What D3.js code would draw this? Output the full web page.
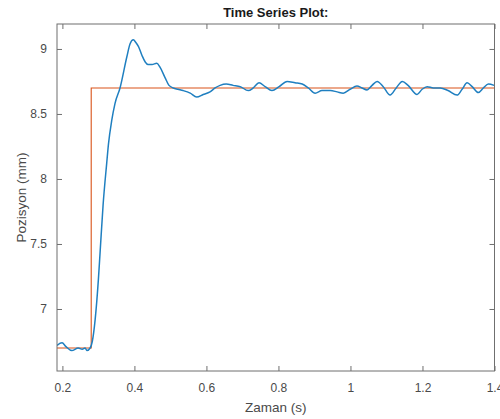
<!DOCTYPE html>
<html>
<head>
<meta charset="utf-8">
<script src="https://cdn.jsdelivr.net/npm/d3@7"></script>
<style>
  body { margin: 0; background: #fff; }
  .graph_area { width: 500px; height: 419px; }
  text { font-family: "Liberation Sans", Arial, sans-serif; }
</style>
</head>
<body>
<div class="graph_area"></div>
<script>
// measured position (blue)
const timeValues = [0.185, 0.199, 0.210, 0.226, 0.244, 0.255, 0.263, 0.268, 0.277, 0.283,
  0.291, 0.300, 0.305, 0.313, 0.323, 0.328, 0.337, 0.346, 0.360, 0.379,
  0.388, 0.397, 0.404, 0.411, 0.421, 0.430, 0.438, 0.449, 0.462, 0.471,
  0.485, 0.496, 0.508, 0.521, 0.535, 0.555, 0.573, 0.591, 0.610, 0.624,
  0.638, 0.655, 0.674, 0.694, 0.716, 0.730, 0.746, 0.763, 0.782, 0.802,
  0.824, 0.846, 0.866, 0.883, 0.902, 0.921, 0.944, 0.963, 0.980, 0.999,
  1.018, 1.032, 1.046, 1.060, 1.074, 1.091, 1.110, 1.127, 1.144, 1.160,
  1.185, 1.199, 1.213, 1.230, 1.249, 1.271, 1.296, 1.310, 1.324, 1.338,
  1.355, 1.369, 1.383, 1.399]
const positionValues = [6.72, 6.74, 6.71, 6.68, 6.70, 6.69, 6.70, 6.68, 6.70, 6.75,
  6.92, 7.23, 7.45, 7.80, 8.12, 8.27, 8.45, 8.58, 8.70, 8.94,
  9.04, 9.07, 9.05, 9.02, 8.95, 8.90, 8.88, 8.88, 8.89, 8.86,
  8.78, 8.72, 8.70, 8.69, 8.68, 8.66, 8.63, 8.65, 8.67, 8.70,
  8.72, 8.73, 8.72, 8.71, 8.68, 8.70, 8.74, 8.71, 8.68, 8.71,
  8.75, 8.74, 8.73, 8.70, 8.66, 8.68, 8.68, 8.67, 8.66, 8.69,
  8.715, 8.70, 8.685, 8.72, 8.75, 8.71, 8.645, 8.70, 8.75, 8.72,
  8.65, 8.69, 8.71, 8.70, 8.70, 8.68, 8.645, 8.69, 8.74, 8.71,
  8.665, 8.70, 8.73, 8.72]

// reference step (orange)
const refTimes = [0.185, 0.28, 0.28, 1.4]
const refValues = [6.70, 6.70, 8.70, 8.70]

const xTicks = [0.2, 0.4, 0.6, 0.8, 1, 1.2, 1.4]
const yTicks = [7, 7.5, 8, 8.5, 9]

const margin = { top: 24, left: 57, right: 5.5, bottom: 48 }
const W = 500, H = 419
const width = W - margin.left - margin.right
const height = H - margin.top - margin.bottom

const xScale = d3.scaleLinear().domain([0.185, 1.4]).range([0, width])
const yScale = d3.scaleLinear().domain([6.523, 9.192]).range([height, 0])

const svg = d3.select('.graph_area').append('svg')
  .attr('width', W).attr('height', H)

const g = svg.append('g')
  .attr('transform', `translate(${margin.left},${margin.top})`)

const axisColor = '#6f6f6f'
const textColor = '#4a4a4a'

function styleAxis(sel, showText) {
  sel.select('.domain').remove()
  sel.selectAll('.tick line').attr('stroke', axisColor)
  sel.selectAll('.tick text')
    .attr('fill', textColor)
    .style('font-size', '12px')
    .style('display', showText ? null : 'none')
}

g.append('g').attr('transform', `translate(0,${height})`)
  .call(d3.axisBottom(xScale).tickValues(xTicks).tickFormat(d3.format('')).tickSizeInner(-5).tickPadding(12))
  .call(s => styleAxis(s, true))
g.append('g')
  .call(d3.axisTop(xScale).tickValues(xTicks).tickSizeInner(-5))
  .call(s => styleAxis(s, false))
g.append('g')
  .call(d3.axisLeft(yScale).tickValues(yTicks).tickFormat(d3.format('')).tickSizeInner(-5).tickPadding(10))
  .call(s => styleAxis(s, true))
g.append('g').attr('transform', `translate(${width},0)`)
  .call(d3.axisRight(yScale).tickValues(yTicks).tickSizeInner(-5))
  .call(s => styleAxis(s, false))

svg.append('clipPath').attr('id', 'clip')
  .append('rect').attr('width', width).attr('height', height)

const refLine = d3.line()
  .x(i => xScale(refTimes[i]))
  .y(i => yScale(refValues[i]))

g.append('path')
  .datum(d3.range(refTimes.length))
  .attr('fill', 'none')
  .attr('stroke', '#D95319')
  .attr('stroke-width', 1.1)
  .attr('clip-path', 'url(#clip)')
  .attr('d', refLine)

const posLine = d3.line()
  .x(i => xScale(timeValues[i]))
  .y(i => yScale(positionValues[i]))
  .curve(d3.curveMonotoneX)

g.append('path')
  .datum(d3.range(timeValues.length))
  .attr('fill', 'none')
  .attr('stroke', '#1f7fc0')
  .attr('stroke-width', 1.5)
  .attr('clip-path', 'url(#clip)')
  .attr('d', posLine)

// box
g.append('rect')
  .attr('width', width).attr('height', height)
  .attr('fill', 'none')
  .attr('stroke', axisColor)
  .attr('stroke-width', 1)

svg.append('text')
  .attr('x', margin.left + width / 2).attr('y', 17)
  .attr('text-anchor', 'middle')
  .attr('font-weight', 'bold')
  .style('font-size', '13px')
  .attr('fill', '#1a1a1a')
  .text('Time Series Plot:')

svg.append('text')
  .attr('x', margin.left + width / 2).attr('y', 412)
  .attr('text-anchor', 'middle')
  .style('font-size', '13.5px')
  .attr('fill', textColor)
  .text('Zaman (s)')

svg.append('text')
  .attr('transform', `translate(26,${margin.top + height / 2}) rotate(-90)`)
  .attr('text-anchor', 'middle')
  .style('font-size', '13.5px')
  .attr('fill', textColor)
  .text('Pozisyon (mm)')
</script>
</body>
</html>
